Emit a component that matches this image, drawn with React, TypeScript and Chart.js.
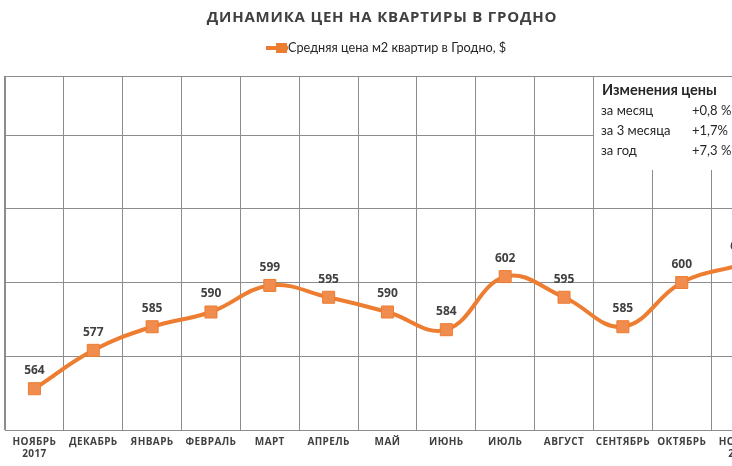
import React, { useEffect, useRef } from "react";
import { Chart, registerables } from "chart.js";

Chart.register(...registerables);

const titleText = "ДИНАМИКА ЦЕН НА КВАРТИРЫ В ГРОДНО";
const seriesName = "Средняя цена м2 квартир в Гродно, $";
const categories: (string | string[])[] = [
  ["НОЯБРЬ", "2017"], "ДЕКАБРЬ", "ЯНВАРЬ", "ФЕВРАЛЬ", "МАРТ", "АПРЕЛЬ", "МАЙ",
  "ИЮНЬ", "ИЮЛЬ", "АВГУСТ", "СЕНТЯБРЬ", "ОКТЯБРЬ", ["НОЯБРЬ", "2018"],
];
const prices = [564, 577, 585, 590, 599, 595, 590, 584, 602, 595, 585, 600, 606];
const boxTitle = "Изменения цены";
const changeLabels = ["за месяц", "за 3 месяца", "за год"];
const changeValues = ["+0,8 %", "+1,7%", "+7,3 %"];
const yMin = 550;
const yMax = 670;
const yStep = 25;

const LINE = "#ED7D31";
const TEXT = "#404040";
const DARK = "#262626";
const GRID = "#8c8c8c";

const overlay = {
  id: "overlay",
  beforeDraw(chart: any) {
    try { (chart.ctx as any).letterSpacing = "0.4px"; } catch (e) {}
  },
  beforeDatasetsDraw(chart: any) {
    const ctx = chart.ctx;
    try { (ctx as any).letterSpacing = "0px"; } catch (e) {}
    ctx.save();
    // title
    ctx.fillStyle = TEXT;
    ctx.textAlign = "center";
    ctx.textBaseline = "middle";
    ctx.font = "bold 15px 'Open Sans'";
    try { (ctx as any).letterSpacing = "0.8px"; } catch (e) {}
    ctx.fillText(titleText, 382, 18);
    try { (ctx as any).letterSpacing = "0px"; } catch (e) {}
    // legend
    ctx.strokeStyle = LINE;
    ctx.lineWidth = 4;
    ctx.beginPath();
    ctx.moveTo(266, 48);
    ctx.lineTo(288, 48);
    ctx.stroke();
    ctx.fillStyle = LINE;
    ctx.fillRect(276, 43, 11, 10);
    ctx.fillStyle = DARK;
    ctx.textAlign = "left";
    ctx.font = "12.7px Lato";
    ctx.fillText(seriesName, 288, 48);
    // info box
    ctx.fillStyle = "#ffffff";
    ctx.fillRect(594, 77, 200, 93);
    ctx.fillStyle = DARK;
    ctx.font = "bold 14.5px Lato";
    ctx.fillText(boxTitle, 602, 90);
    ctx.font = "13px Lato";
    changeLabels.forEach((l, i) => {
      const y = [111, 130.5, 151][i];
      ctx.fillText(l, 601, y);
      ctx.fillText(changeValues[i], 692, y);
    });
    ctx.restore();
  },
  afterDatasetsDraw(chart: any) {
    const ctx = chart.ctx;
    const meta = chart.getDatasetMeta(0);
    ctx.save();
    ctx.fillStyle = TEXT;
    ctx.font = "bold 12px 'Open Sans'";
    ctx.textAlign = "center";
    ctx.textBaseline = "middle";
    meta.data.forEach((pt: any, i: number) => {
      ctx.fillText(String(prices[i]), pt.x, pt.y - 18);
    });
    ctx.restore();
  },
};

export default function App() {
  const ref = useRef<HTMLCanvasElement>(null);
  useEffect(() => {
    const chart = new Chart(ref.current!, {
      type: "line",
      data: {
        labels: categories,
        datasets: [
          {
            label: seriesName,
            data: prices,
            borderColor: LINE,
            backgroundColor: "#F08D4E",
            borderWidth: 4,
            tension: 0.4,
            pointStyle: "rect",
            pointRadius: 8.5,
            pointBorderColor: LINE,
            pointBorderWidth: 1,
            pointBackgroundColor: "#F08D4E",
          },
        ],
      },
      options: {
        responsive: false,
        animation: false,
        layout: { autoPadding: false, padding: { left: 5, right: 10, top: 76, bottom: 0 } },
        plugins: { legend: { display: false }, title: { display: false }, tooltip: { enabled: false } },
        scales: {
          x: {
            offset: true,
            grid: { offset: true, color: GRID, drawTicks: false, lineWidth: 1 },
            border: { color: GRID },
            ticks: {
              color: TEXT,
              font: { family: "'Open Sans'", weight: "bold", size: 10 },
              padding: 6,
              maxRotation: 0,
              autoSkip: false,
            },
            afterFit: (s: any) => { s.height = 36; s.paddingLeft = 0; s.paddingRight = 0; },
          },
          y: {
            min: yMin,
            max: yMax,
            ticks: { display: false, stepSize: yStep },
            grid: { color: GRID, drawTicks: false },
            border: { color: GRID },
            afterFit: (s: any) => { s.width = 0; },
          },
        },
      },
      plugins: [overlay],
    });
    return () => chart.destroy();
  }, []);
  return (
    <div style={{ position: "fixed", left: 0, top: 0, width: 732, height: 466, overflow: "hidden", background: "#fff" }}>
      <canvas ref={ref} width={780} height={466} style={{ width: 780, height: 466 }} />
    </div>
  );
}
